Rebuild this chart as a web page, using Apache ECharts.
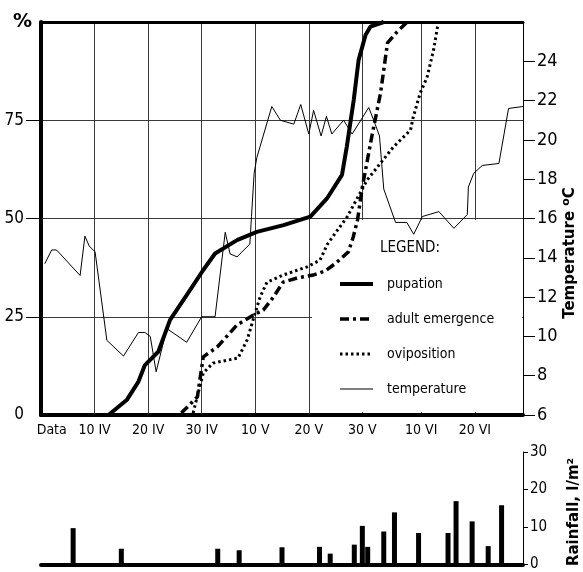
<!DOCTYPE html>
<html><head><meta charset="utf-8">
<script src="https://cdn.jsdelivr.net/npm/echarts@6/dist/echarts.min.js"></script>
<style>html,body{margin:0;padding:0;background:#fff}#c{width:583px;height:572px}</style>
</head><body><div id="c"></div>
<script>
// x axis: days counted from 31 March (day 0)
const xLabelDays = [2, 10, 20, 30, 40, 50, 60, 71, 81];
const xLabelTexts = ['Data', '10 IV', '20 IV', '30 IV', '10 V', '20 V', '30 V', '10 VI', '20 VI'];
const gridDays = [10, 20, 30, 40, 50, 60, 71, 81];
const pctTicks = [25, 50, 75];
const pctLabels = [0, 25, 50, 75];
const tempTicks = [6, 8, 10, 12, 14, 16, 18, 20, 22, 24];

const pupationDays = [12.6, 16, 18.2, 19.4, 21.9, 24.1, 27.2, 30.3, 32.5, 36.6, 40.3, 45.3, 50.3, 53.4, 56.2, 57.1, 58.4, 59.3, 60.6, 61.5, 64];
const pupationPct  = [0, 3.8, 8.5, 12.7, 16.1, 24.2, 30.5, 36.9, 41.1, 44.5, 46.6, 48.3, 50.5, 55.1, 61.1, 68.3, 80.2, 90.3, 96.7, 98.8, 100];

const emergenceDays = [26.2, 29.2, 30.3, 32.9, 36.6, 39.6, 41.5, 43.4, 45.2, 47.9, 50.8, 53, 55, 57.4, 58.3, 59.1, 60, 61.9, 63.4, 64.7, 66.5, 68.4];
const emergencePct  = [0.5, 4.6, 14.8, 17.3, 22.9, 25.4, 26.7, 30, 33.8, 34.9, 35.6, 36.6, 38.6, 41.5, 45.3, 49.6, 58, 71.8, 81.9, 94.7, 97.5, 100];

const ovipositionDays = [28.4, 30.3, 32.1, 36.8, 38.5, 39.6, 40.9, 42.2, 45.2, 49.7, 52.1, 53.5, 57.2, 60.9, 63.4, 65.8, 69, 69.5, 70.8, 72.1, 73.3, 74.2];
const ovipositionPct  = [0.5, 10.7, 13.2, 14.5, 19.1, 24.2, 30, 33.8, 35.6, 37.7, 39.4, 43.5, 50.5, 59.8, 64.1, 68.2, 72.5, 75.8, 81.9, 86, 92.9, 100];

const tempDays = [0.7, 2, 2.9, 7.3, 8.2, 9, 10.1, 12.3, 15.4, 18.2, 19.4, 20.4, 21.5, 23.5, 27.2, 30, 32.5, 34.4, 35.3, 36.6, 39, 39.3, 39.8, 40.3, 43.1, 44.7, 47.2, 48.5, 50, 50.9, 52.3, 53.3, 54.3, 56.5, 58.1, 61.2, 62.4, 63.2, 64, 66.2, 68.3, 69.6, 71.2, 74.3, 77.1, 79.6, 79.8, 80.8, 82.4, 85.5, 87.3, 90];
const tempVals = [13.7, 14.4, 14.4, 13.1, 15.1, 14.6, 14.3, 9.8, 9.0, 10.2, 10.2, 10.0, 8.2, 10.4, 9.7, 11.0, 11.0, 15.3, 14.2, 14.05, 14.7, 16.1, 18.3, 19.1, 21.7, 21.0, 20.8, 21.8, 20.3, 21.5, 20.2, 21.2, 20.3, 21.0, 20.3, 21.65, 20.8, 20.2, 17.5, 15.8, 15.8, 15.2, 16.1, 16.35, 15.5, 16.2, 17.6, 18.3, 18.7, 18.8, 21.6, 21.7];

const rainDays = [6, 15, 33, 37, 45, 52, 54, 58.5, 60, 61, 64, 66, 70.5, 76, 77.5, 80.5, 83.5, 86];
const rainVals = [9.7, 4.2, 4.2, 3.8, 4.6, 4.7, 2.9, 5.3, 10.3, 4.7, 8.8, 13.9, 8.4, 8.4, 16.9, 11.5, 4.9, 15.8];
const rainTicks = [0, 10, 20, 30];

const zip = (a, b) => a.map((v, i) => [v, b[i]]);
const NARROW = "'DejaVu Sans Condensed', 'Liberation Sans Narrow', 'DejaVu Sans', sans-serif";
const BOLD = "'DejaVu Sans', 'Liberation Sans', sans-serif";
const CND = 'condensed';
const GRIDC = '#3a3a3a';

const chart = echarts.init(document.getElementById('c'), null, {renderer: 'canvas'});
chart.setOption({
  animation: false,
  backgroundColor: '#fff',
  grid: [
    {left: 41, right: 60, top: 22, bottom: 157},
    {left: 41, right: 60, top: 452, bottom: 6}
  ],
  xAxis: [
    {type: 'value', gridIndex: 0, position: 'bottom', min: 0, max: 90, interval: 10,
     axisLine: {show: true, onZero: false, lineStyle: {color: '#000', width: 4}},
     axisTick: {show: false, customValues: gridDays},
     axisLabel: {customValues: xLabelDays, margin: 8, color: '#000', fontFamily: NARROW, fontStyle: CND, fontSize: 14,
       formatter: v => { const i = xLabelDays.indexOf(v); return i >= 0 ? xLabelTexts[i] : ''; }},
     splitLine: {show: true, lineStyle: {color: GRIDC, width: 1}}},
    {type: 'value', gridIndex: 0, position: 'top', min: 0, max: 90,
     axisLine: {show: true, onZero: false, lineStyle: {color: '#000', width: 3}},
     axisTick: {show: false}, axisLabel: {show: false}, splitLine: {show: false}},
    {type: 'value', gridIndex: 1, position: 'bottom', min: 0, max: 90,
     axisLine: {show: true, onZero: false, lineStyle: {color: '#000', width: 4}},
     axisTick: {show: false}, axisLabel: {show: false}, splitLine: {show: false}}
  ],
  yAxis: [
    {type: 'value', gridIndex: 0, position: 'left', min: 0, max: 100, interval: 25,
     axisLine: {show: true, onZero: false, lineStyle: {color: '#000', width: 4}},
     axisTick: {show: true, customValues: pctTicks, length: 15, lineStyle: {color: '#000', width: 1}},
     axisLabel: {customValues: pctLabels, margin: 17, color: '#000', fontFamily: NARROW, fontStyle: CND, fontSize: 17},
     splitLine: {show: true, lineStyle: {color: GRIDC, width: 1}}},
    {type: 'value', gridIndex: 0, position: 'right', min: 6, max: 26, interval: 2,
     axisLine: {show: true, onZero: false, lineStyle: {color: '#000', width: 1}},
     axisTick: {show: true, customValues: tempTicks, length: 12, lineStyle: {color: '#000', width: 1}},
     axisLabel: {customValues: tempTicks, margin: 14, color: '#000', fontFamily: NARROW, fontStyle: CND, fontSize: 18},
     splitLine: {show: false}},
    {type: 'value', gridIndex: 1, position: 'right', min: 0, max: 30, interval: 10,
     axisLine: {show: true, onZero: false, lineStyle: {color: '#000', width: 1}},
     axisTick: {show: true, length: 5, lineStyle: {color: '#000', width: 1}},
     axisLabel: {margin: 7, color: '#000', fontFamily: NARROW, fontStyle: CND, fontSize: 15},
     splitLine: {show: false}}
  ],
  legend: {
    orient: 'vertical', left: 338, top: 277, padding: 0, itemWidth: 33, itemHeight: 14, itemGap: 21,
    selectedMode: false,
    itemStyle: {opacity: 0},
    textStyle: {color: '#000', fontFamily: NARROW, fontStyle: CND, fontSize: 14, lineHeight: 14, padding: [0, 0, 0, 9]},
    lineStyle: {width: 'inherit', type: 'inherit'},
    data: ['pupation', 'adult emergence', 'oviposition', 'temperature']
  },
  graphic: [
    {type: 'rect', z: 1, shape: {x: 312, y: 220, width: 210, height: 192}, style: {fill: '#fff'}, silent: true},
    {type: 'text', z: 5, left: 380, top: 241, style: {text: 'LEGEND:', font: 'condensed 15px ' + NARROW, fill: '#000'}},
    {type: 'text', z: 5, left: 13, top: 13, style: {text: '%', font: 'bold 19px ' + BOLD, fill: '#000'}},
    {type: 'text', z: 5, x: 570, y: 253, rotation: Math.PI / 2,
     style: {text: 'Temperature {s|o}C', font: 'bold 15px ' + BOLD, fill: '#000', align: 'center', verticalAlign: 'middle',
       rich: {s: {fontSize: 11, fontWeight: 'bold', fontFamily: BOLD, verticalAlign: 'top', lineHeight: 18}}}},
    {type: 'text', z: 5, x: 574, y: 512, rotation: Math.PI / 2,
     style: {text: 'Rainfall, l/m²', font: 'bold 15px ' + BOLD, fill: '#000', align: 'center', verticalAlign: 'middle'}}
  ],
  series: [
    {name: 'pupation', type: 'line', xAxisIndex: 0, yAxisIndex: 0, symbol: 'none', z: 3,
     data: zip(pupationDays, pupationPct), lineStyle: {color: '#000', width: 4}, itemStyle: {color: '#000'}},
    {name: 'adult emergence', type: 'line', xAxisIndex: 0, yAxisIndex: 0, symbol: 'none', z: 3,
     data: zip(emergenceDays, emergencePct), lineStyle: {color: '#000', width: 3.5, type: [9, 4, 3, 4]}, itemStyle: {color: '#000'}},
    {name: 'oviposition', type: 'line', xAxisIndex: 0, yAxisIndex: 0, symbol: 'none', z: 3,
     data: zip(ovipositionDays, ovipositionPct), lineStyle: {color: '#000', width: 3, type: [2.5, 3]}, itemStyle: {color: '#000'}},
    {name: 'temperature', type: 'line', xAxisIndex: 0, yAxisIndex: 1, symbol: 'none', z: 3,
     data: zip(tempDays, tempVals), lineStyle: {color: '#000', width: 1}, itemStyle: {color: '#000'}},
    {name: 'rainfall', type: 'bar', xAxisIndex: 2, yAxisIndex: 2, barWidth: 5, z: 3,
     data: zip(rainDays, rainVals), itemStyle: {color: '#000'}}
  ]
});
</script></body></html>
